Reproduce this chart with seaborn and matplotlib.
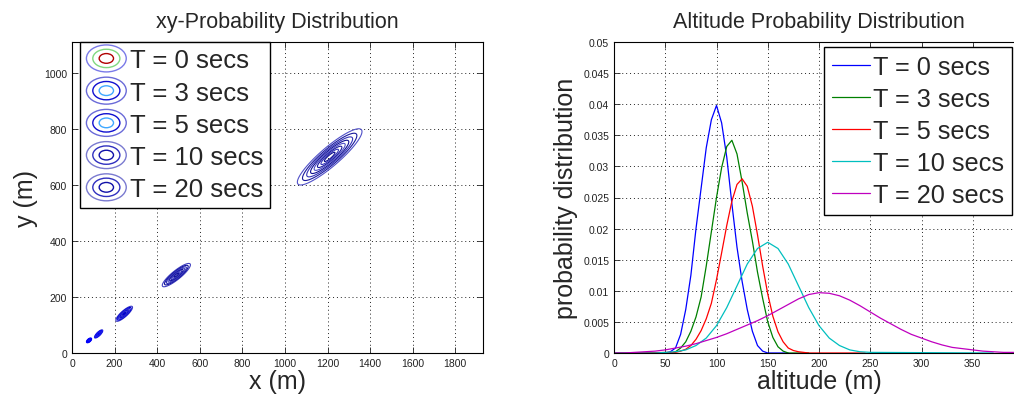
import numpy as np
import pandas as pd
import seaborn as sns
import matplotlib.pyplot as plt
from matplotlib.patches import Ellipse
from matplotlib.legend_handler import HandlerBase


# ---- data ----
labels = ['T = 0 secs', 'T = 3 secs', 'T = 5 secs', 'T = 10 secs', 'T = 20 secs']

# xy distribution: gaussian blob parameters (centre, spread, correlation)
xy_center_x = [80, 125, 245, 490, 1210]
xy_center_y = [45, 68, 140, 278, 700]
xy_sigma_x = [5, 8, 16, 27, 62]
xy_sigma_y = [3.5, 6, 11, 17, 41]
xy_rho = [0.6, 0.8, 0.85, 0.88, 0.9]
contour_fracs = [0.05, 0.12, 0.22, 0.35, 0.5, 0.65, 0.8, 0.92]

# altitude distribution curves
alt_t0 = [0, 50, 55, 60, 65, 70, 75, 80, 85, 90, 95, 100, 105, 110, 115, 120,
          125, 130, 135, 140, 145, 150, 170]
pdf_t0 = [0, 0, 0.0002, 0.0008, 0.003, 0.007, 0.0125, 0.02, 0.0265, 0.033, 0.0375,
          0.0398, 0.037, 0.0315, 0.024, 0.017, 0.0115, 0.007, 0.0035, 0.0012, 0.0003, 0, 0]

alt_t3 = [0, 55, 60, 65, 70, 75, 80, 85, 90, 95, 100, 105, 110, 115, 120, 125, 130,
          135, 140, 145, 150, 155, 160, 165, 170, 190]
pdf_t3 = [0, 0, 0.0002, 0.0008, 0.0018, 0.0035, 0.0058, 0.009, 0.014, 0.0195, 0.025,
          0.0298, 0.0332, 0.0342, 0.032, 0.0275, 0.0225, 0.018, 0.013, 0.0088, 0.005,
          0.0025, 0.001, 0.0003, 0, 0]

alt_t5 = [0, 60, 65, 70, 75, 80, 85, 90, 95, 100, 105, 110, 115, 120, 125, 130, 135,
          140, 145, 150, 155, 160, 165, 170, 175, 180, 185, 190, 245]
pdf_t5 = [0, 0.0001, 0.0003, 0.0006, 0.0012, 0.0022, 0.0036, 0.0055, 0.008, 0.0118,
          0.0161, 0.0205, 0.0244, 0.0271, 0.028, 0.0268, 0.0236, 0.019, 0.014, 0.0095,
          0.0059, 0.0034, 0.0018, 0.0008, 0.0004, 0.0002, 0.0001, 0, 0]

alt_t10 = [0, 40, 50, 60, 70, 80, 90, 100, 110, 120, 130, 140, 150, 160, 170, 180,
           190, 200, 210, 220, 230, 240, 250, 370]
pdf_t10 = [0, 0, 0.0001, 0.0002, 0.0005, 0.0012, 0.0024, 0.0044, 0.0073, 0.0108,
           0.0143, 0.0168, 0.0178, 0.0168, 0.0143, 0.0108, 0.0073, 0.0044, 0.0024,
           0.0012, 0.0005, 0.0002, 0.0001, 0]

alt_t20 = [0, 10, 20, 30, 40, 50, 60, 70, 80, 90, 100, 110, 120, 130, 140, 150, 160,
           170, 180, 190, 200, 210, 220, 230, 240, 250, 260, 270, 280, 290, 300, 310,
           320, 330, 340, 350, 360, 370, 380, 390]
pdf_t20 = [0, 0, 0.0001, 0.0002, 0.0003, 0.0005, 0.0008, 0.0011, 0.0015, 0.002,
           0.0025, 0.0031, 0.0038, 0.0045, 0.0052, 0.006, 0.0069, 0.0078, 0.0087, 0.0094,
           0.0097, 0.0096, 0.0092, 0.0085, 0.0076, 0.0066, 0.0056, 0.0047, 0.0038, 0.003,
           0.0024, 0.0018, 0.0013, 0.0009, 0.0007, 0.0005, 0.0003, 0.0002, 0.0001, 0.0001]

line_colors = ['#0000ff', '#008000', '#ff0000', '#00bfbf', '#bf00bf']

# colours of the contour lines per blob and of the little legend keys
blob_colors = [
    ['#0000ff', '#0000ee', '#0000ff', '#1010ff'],
    ['#2a2ad8', '#0000ff', '#1a1ae0'],
    ['#3a3ac8', '#0000cc', '#1c1cdc'],
    ['#4040c0', '#10109c', '#2a2ab4'],
    ['#5050c8', '#1a1a9c', '#3434b8', '#101090'],
]
key_colors = [
    ['#7a7ae8', '#80d880', '#b00000'],
    ['#6a6ad8', '#1010d0', '#40a8ff'],
    ['#6a6ad8', '#1010d0', '#40a8ff'],
    ['#7a7ad0', '#3030c0', '#1010a8'],
    ['#7a7ad0', '#3030c0', '#1010a8'],
]


class ContourKey:
    def __init__(self, colors):
        self.colors = colors


class ContourKeyHandler(HandlerBase):
    def create_artists(self, legend, orig_handle, xdescent, ydescent, width, height,
                       fontsize, trans):
        cx = -xdescent + width / 2
        cy = -ydescent + height / 2
        arts = []
        for k, c in enumerate(orig_handle.colors):
            f = 1 - k * 0.32
            arts.append(Ellipse((cx, cy), width * f, height * 1.5 * f, fill=False,
                                edgecolor=c, lw=1.0, transform=trans))
        return arts


sns.set_style('ticks')
plt.rcParams['font.family'] = ['Liberation Sans', 'DejaVu Sans']
plt.rcParams.update({
    'xtick.direction': 'in', 'ytick.direction': 'in',
    'xtick.top': True, 'ytick.right': True,
    'xtick.major.size': 4, 'ytick.major.size': 4,
    'xtick.major.width': 0.6, 'ytick.major.width': 0.6,
    'xtick.labelsize': 7.5, 'ytick.labelsize': 7.5,
    'xtick.color': '#222222', 'ytick.color': '#222222',
    'axes.edgecolor': 'black', 'axes.linewidth': 0.8,
})

fig = plt.figure(figsize=(10.14, 4.02), dpi=100)
ax1 = fig.add_axes([72 / 1014, 48 / 402, 411 / 1014, 311 / 402])
ax2 = fig.add_axes([614 / 1014, 48 / 402, 410 / 1014, 311 / 402])

grid_kw = dict(linestyle=(0, (1, 3)), color='#222222', linewidth=0.7)

# ---- left: xy contours ----
for i in range(len(labels)):
    mx, my = xy_center_x[i], xy_center_y[i]
    sx, sy, r = xy_sigma_x[i], xy_sigma_y[i], xy_rho[i]
    gx = np.linspace(mx - 4 * sx, mx + 4 * sx, 160)
    gy = np.linspace(my - 4 * sy, my + 4 * sy, 160)
    X, Y = np.meshgrid(gx, gy)
    u = (X - mx) / sx
    v = (Y - my) / sy
    Z = np.exp(-(u ** 2 - 2 * r * u * v + v ** 2) / (2 * (1 - r ** 2)))
    cols = [blob_colors[i][k % len(blob_colors[i])] for k in range(len(contour_fracs))]
    ax1.contour(X, Y, Z, levels=contour_fracs, colors=cols, linewidths=0.8)

ax1.set_xlim(0, 1930)
ax1.set_ylim(0, 1110)
ax1.set_xticks(range(0, 1801, 200))
ax1.set_yticks(range(0, 1001, 200))
ax1.grid(True, **grid_kw)
ax1.set_title('xy-Probability Distribution', fontsize=15.5, pad=11)
ax1.set_xlabel('x (m)', fontsize=18, labelpad=1)
ax1.set_ylabel('y (m)', fontsize=18, labelpad=4)

keys = [ContourKey(c) for c in key_colors]
ax1.legend(keys, labels, handler_map={ContourKey: ContourKeyHandler()},
           loc='upper left', bbox_to_anchor=(80 / 1014, 1 - 43 / 402),
           bbox_transform=fig.transFigure, borderaxespad=0, fontsize=18.5,
           handlelength=1.55, handletextpad=0.15, labelspacing=0.32,
           borderpad=0.25, fancybox=False, framealpha=1, edgecolor='black')

# ---- right: altitude curves ----
alts = [alt_t0, alt_t3, alt_t5, alt_t10, alt_t20]
pdfs = [pdf_t0, pdf_t3, pdf_t5, pdf_t10, pdf_t20]
df = pd.concat([pd.DataFrame({'altitude': a, 'pdf': p, 'T': lab})
                for a, p, lab in zip(alts, pdfs, labels)], ignore_index=True)
sns.lineplot(data=df, x='altitude', y='pdf', hue='T', hue_order=labels,
             palette=dict(zip(labels, line_colors)), estimator=None, sort=False,
             linewidth=0.9, ax=ax2)

ax2.set_xlim(0, 400)
ax2.set_ylim(0, 0.05)
ax2.set_xticks(range(0, 351, 50))
yt = np.arange(0, 0.0501, 0.005)
ax2.set_yticks(yt)
ax2.set_yticklabels([f'{v:g}' for v in np.round(yt, 3)])
ax2.grid(True, **grid_kw)
ax2.set_title('Altitude Probability Distribution', fontsize=15.5, pad=11)
ax2.set_xlabel('altitude (m)', fontsize=18, labelpad=1)
ax2.set_ylabel('probability distribution', fontsize=18, labelpad=4)

h, l = ax2.get_legend_handles_labels()
ax2.legend(h, l, loc='upper right', bbox_to_anchor=(1012 / 1014, 1 - 48 / 402),
           bbox_transform=fig.transFigure, borderaxespad=0, fontsize=18.2,
           handlelength=1.5, handletextpad=0.15, labelspacing=0.32,
           borderpad=0.3, fancybox=False, framealpha=1, edgecolor='black')

fig.savefig('out.png', dpi=100)
